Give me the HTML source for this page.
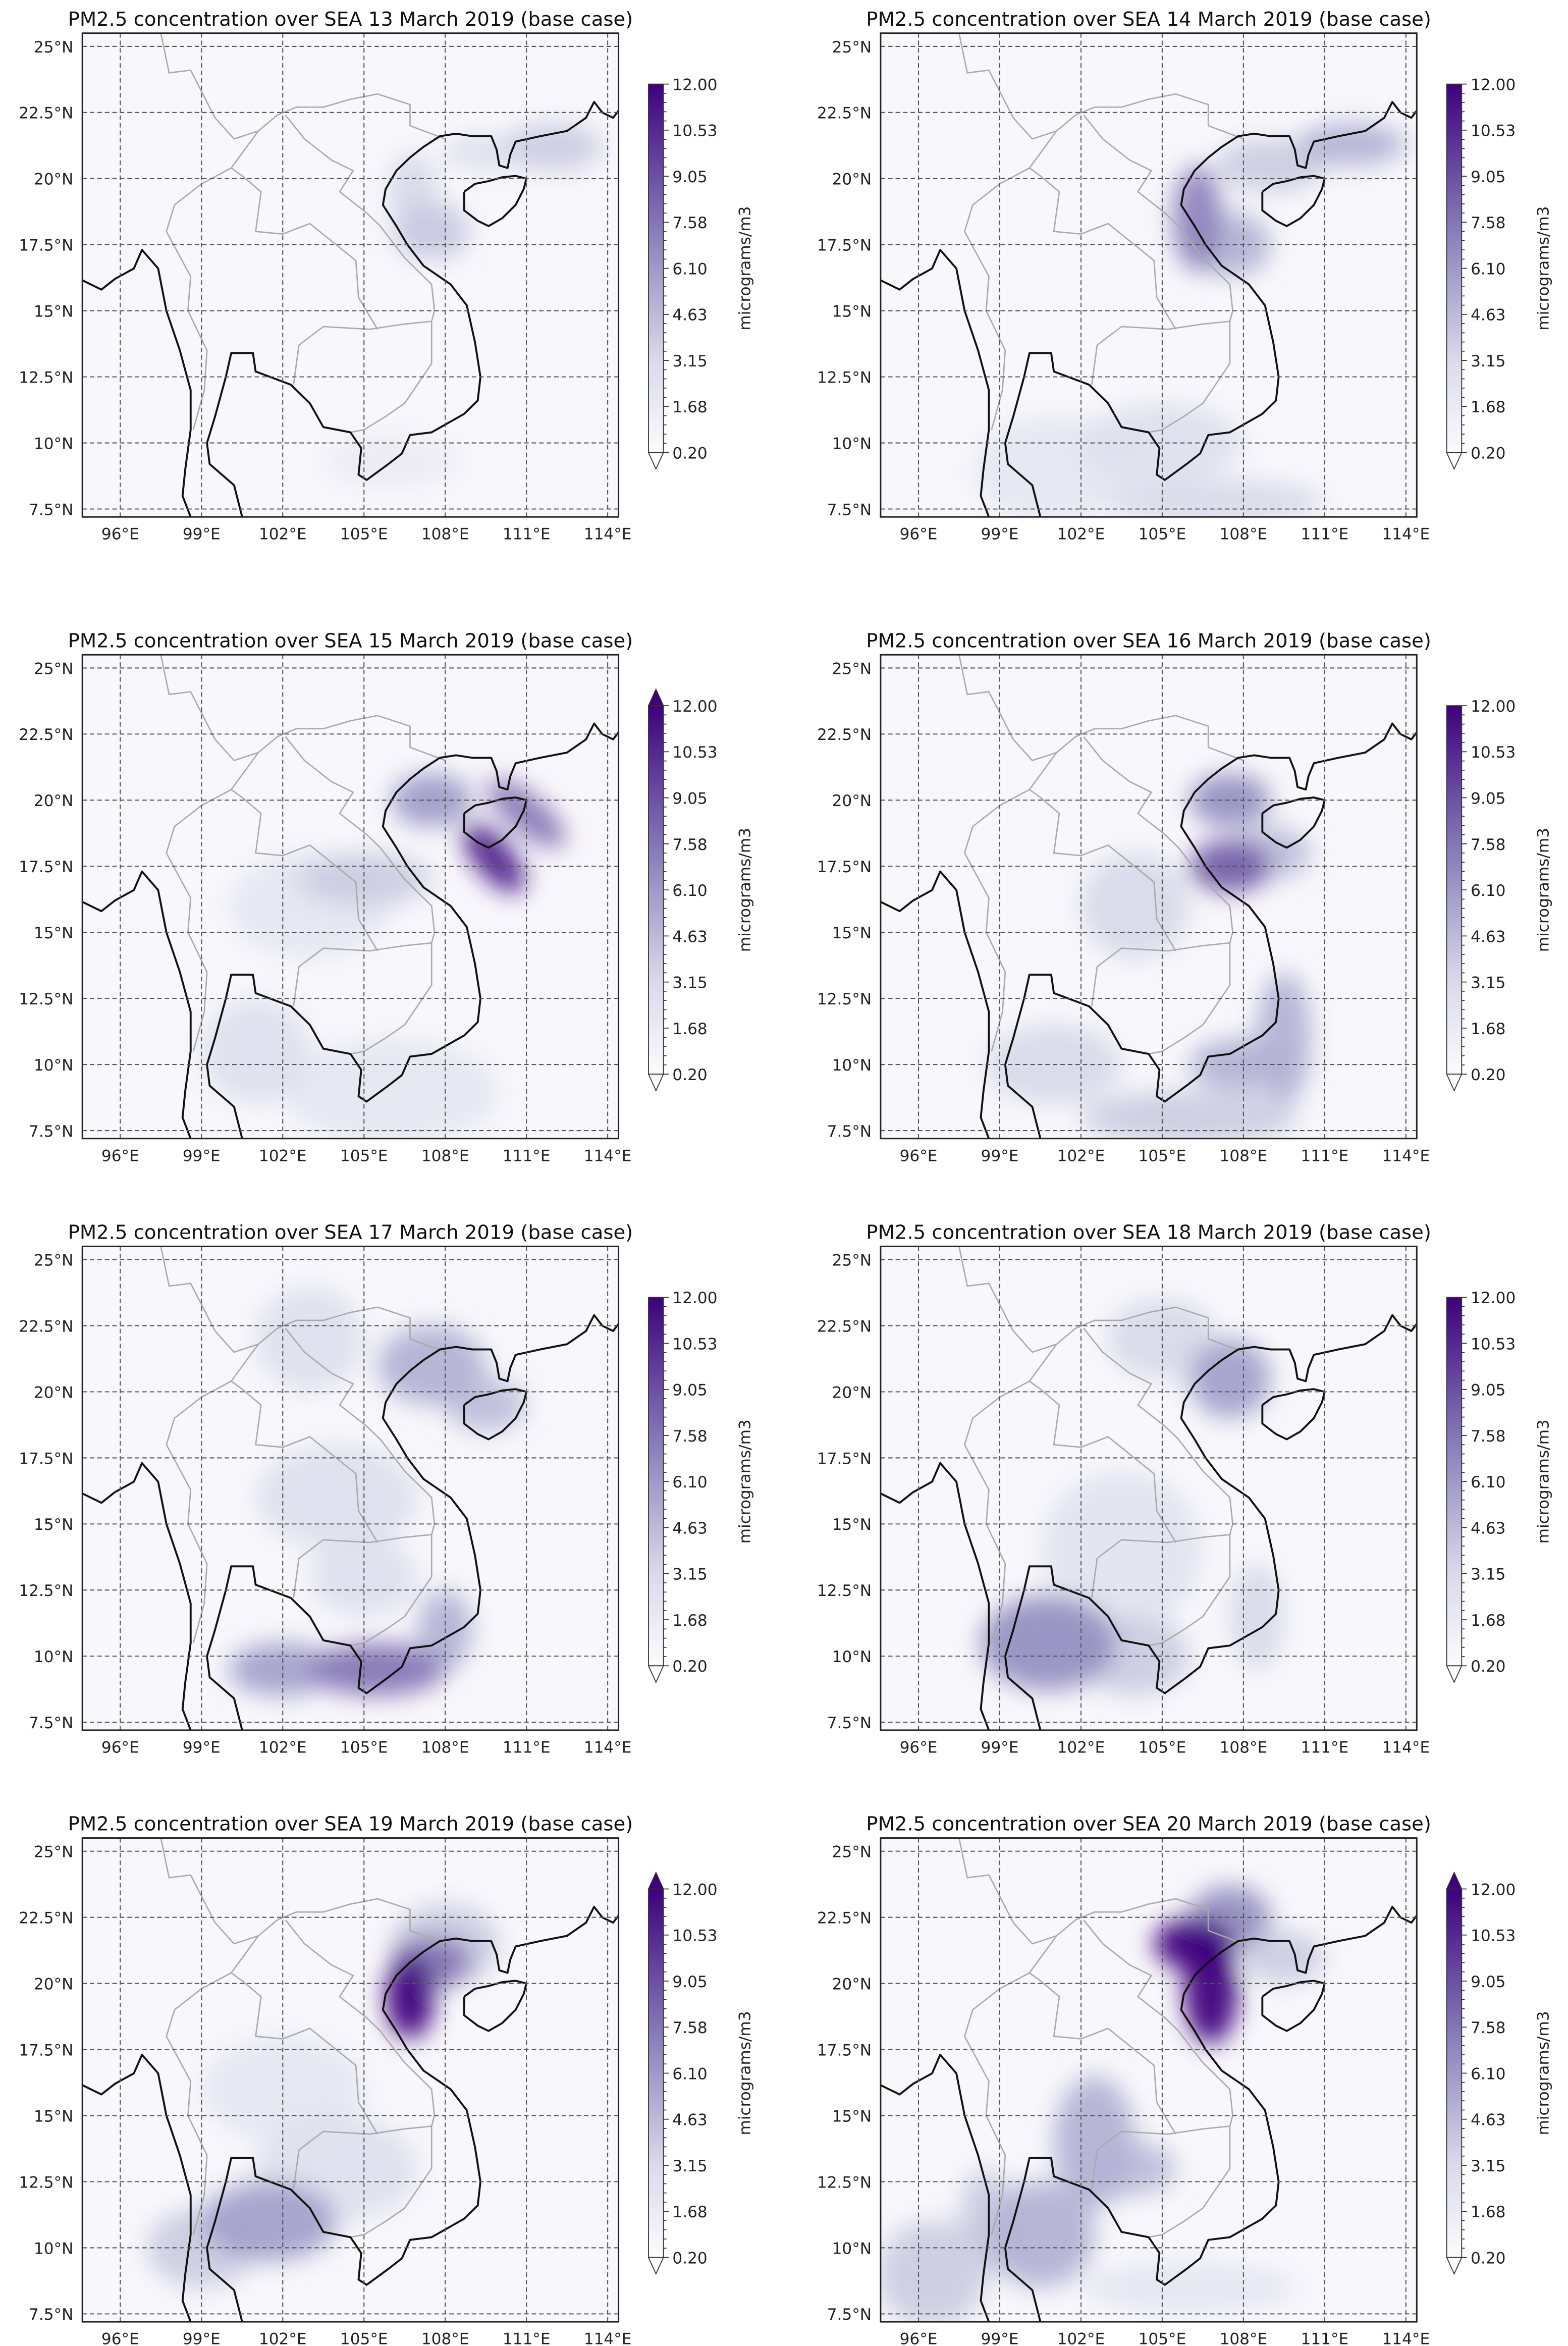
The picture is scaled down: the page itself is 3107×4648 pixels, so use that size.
<!DOCTYPE html>
<html><head><meta charset="utf-8"><style>
html,body{margin:0;padding:0;background:#fff;}
svg{display:block;font-family:"DejaVu Sans","Liberation Sans",sans-serif;}
</style></head><body>
<svg id="fig" xmlns="http://www.w3.org/2000/svg" width="3107" height="4648" viewBox="0 0 1047 1566">
<defs>
<filter id="blur" x="-50%" y="-50%" width="200%" height="200%"><feGaussianBlur stdDeviation="8"/></filter>
<linearGradient id="cbgrad" x1="0" y1="1" x2="0" y2="0">
<stop offset="0" stop-color="#fcfbfd"/><stop offset="0.25" stop-color="#dadaeb"/><stop offset="0.5" stop-color="#9e9ac8"/><stop offset="0.75" stop-color="#6a51a3"/><stop offset="1" stop-color="#3f007d"/>
</linearGradient>
</defs>
</svg>
<script>
const dates = ["13","14","15","16","17","18","19","20"];
const latTicks = [25,22.5,20,17.5,15,12.5,10,7.5];
const lonTicks = [96,99,102,105,108,111,114];
const cbLabels = ["12.00","10.53","9.05","7.58","6.10","4.63","3.15","1.68","0.20"];
const topArrow = [false,false,true,false,false,false,true,true];
// blobs: [lon, lat, rxDeg, ryDeg, rotation, value]
const blobs13 = [[106,9.3,2.5,1,0,1.6],[109.5,21,1.6,0.7,0,2.6],[112,21.2,1.8,0.9,0,3.8],[106.8,19.5,0.9,1.5,0,3.2],[107.5,18,1.4,1.1,0,4]];
const blobs14 = [[101,9,3,2,0,2],[105,10,3,1.5,0,2.6],[107,7.8,4,0.8,0,3.2],[109,20.5,2,1,0,3.8],[112,21.3,2,0.8,0,5],[107.5,17.5,1.5,1.2,0,5],[106.3,18.5,0.9,2,0,7]];
const blobs15 = [[106,9,4,2,0,2],[103,16,3,2,0,2],[101,10.5,2,2,0,2.6],[105,17,2.5,1,0,3.8],[107.5,20,1.5,1,0,6],[111,19.5,1.8,0.7,-40,7.5],[109.8,17.8,0.7,1.6,40,11]];
const blobs16 = [[101,10,2.5,1.5,0,3.2],[104,16,2,2,0,3.2],[106,8,4,1,0,3.8],[109,18,1.5,1,0,4.5],[109.5,11,1,2.5,0,5],[108,10,2,1,0,5],[107.5,20,1.5,1,0,6.5],[107.5,17.5,1.5,1,0,8.5]];
const blobs17 = [[104,16,3,2,0,2.6],[103,22,2,2,0,2.6],[105,13,2,1.5,0,2.6],[109.5,19.5,1.5,1,0,4.5],[107.5,21,2,1.5,0,5],[108,11,1,1.5,0,5],[102,9.5,2,1,0,5.8],[105.5,9.5,2.5,1,0,7.5]];
const blobs18 = [[103.5,14,3,3,0,2.3],[105,22,2,1.5,0,3.2],[108.5,11.5,1,2,0,3.2],[104,10,2,1.5,0,3.8],[107.5,20.5,1.5,1.5,0,5.8],[100.8,10.5,2.5,1.8,0,6.5]];
const blobs19 = [[102,16,3,2,0,2],[104,13,3,2,0,2.6],[108,21.5,2,1.5,0,3.8],[99,10,2,1.5,0,3.8],[101.5,11,2.5,1.5,0,5.8],[107.5,20.8,1.5,1,0,7.5],[106.7,19.5,0.9,1.6,0,14]];
const blobs20 = [[106,8.5,4,1,0,2],[109.5,21,1.5,1,0,3.8],[96.5,9,2,2,0,3.8],[98.5,11,1,2,0,3.8],[104,13,1.5,1,0,4.5],[102.5,14,1.5,2.5,0,5],[100.5,10.5,2,2,0,5],[107.5,22.5,1.5,1.2,0,6.5],[106.2,21.5,1.5,1,0,13],[106.8,19.8,1,2.1,0,18]];
const allBlobs = [blobs13,blobs14,blobs15,blobs16,blobs17,blobs18,blobs19,blobs20];

const coastMain = [[114.5,22.7],[114.2,22.3],[113.8,22.5],[113.5,22.9],[113.2,22.3],[112.5,21.8],[111.5,21.6],[110.6,21.4],[110.4,20.9],[110.3,20.4],[110.0,20.5],[109.9,21.1],[109.7,21.6],[109.0,21.6],[108.4,21.7],[107.8,21.6],[107.2,21.2],[106.7,20.8],[106.2,20.3],[105.8,19.6],[105.7,19],[106.2,18.2],[106.6,17.5],[107.2,16.7],[108.2,16],[108.8,15.2],[109.1,13.8],[109.3,12.5],[109.2,11.6],[108.7,11.1],[107.5,10.4],[106.7,10.3],[106.4,9.6],[105.9,9.2],[105.1,8.6],[104.8,8.8],[104.9,9.8],[104.5,10.4],[103.5,10.6],[103,11.5],[102.3,12.2],[101,12.7],[100.9,13.4],[100.1,13.4],[99.9,12.5],[99.5,11],[99.2,10],[99.3,9.2],[100.2,8.4],[100.5,7.2]];
const coastWest = [[94.5,16.2],[95.3,15.8],[95.8,16.2],[96.5,16.6],[96.8,17.3],[97.4,16.6],[97.7,15],[98.2,13.5],[98.6,12],[98.6,10.5],[98.4,9],[98.3,8],[98.6,7.2]];
const hainan = [[108.7,19.5],[108.7,18.8],[109.2,18.4],[109.6,18.2],[110.1,18.5],[110.6,19],[110.9,19.6],[111,20],[110.6,20.1],[110.1,20.05],[109.6,19.9],[109.1,19.8],[108.7,19.5]];
const borders = [
[[97.5,25.5],[97.8,24],[98.6,24.1],[99.5,22.3],[100.2,21.5],[101.1,21.8],[101.8,22.4],[102.5,22.7],[103.5,22.7],[104.5,23],[105.5,23.2],[106.7,22.8],[106.7,22],[108,21.5]],
[[100.1,20.4],[99,19.8],[98,19],[97.7,18],[98.6,16.3],[98.5,15],[99.2,13.5],[99.1,12],[98.7,10.5]],
[[100.1,20.4],[100.5,20.1],[101.2,19.5],[101,18],[102,17.9],[103,18.3],[104.7,16.9],[104.8,15.5],[105.5,14.3]],
[[100.1,20.4],[101.1,21.8]],
[[102.1,22.4],[102.8,21.5],[103.8,20.7],[104.6,20.3],[104.1,19.5],[105.1,18.7],[105.6,18.2],[106.5,17],[107.5,16],[107.6,15],[107.5,14.6]],
[[102.4,12.2],[102.6,13.7],[103.5,14.4],[105.2,14.3],[106.5,14.5],[107.5,14.6]],
[[107.5,14.6],[107.5,13],[106.5,11.5],[105.8,11],[105,10.5],[104.5,10.4]]
];

const NS="http://www.w3.org/2000/svg";
const svg=document.getElementById('fig');
function el(t,a,p){const e=document.createElementNS(NS,t);for(const k in a)e.setAttribute(k,a[k]);(p||svg).appendChild(e);return e;}
const stops=[[0,[252,251,253]],[0.25,[218,218,235]],[0.5,[158,154,200]],[0.75,[106,81,163]],[1,[63,0,125]]];
function cmap(v){let t=Math.max(0,Math.min(1,(v-0.2)/11.8));for(let i=1;i<stops.length;i++){if(t<=stops[i][0]){const a=stops[i-1],b=stops[i];const f=(t-a[0])/(b[0]-a[0]);const c=a[1].map((x,j)=>Math.round(x+(b[1][j]-x)*f));return `rgb(${c})`;}}return 'rgb(63,0,125)';}

const LON0=94.6,LON1=114.4,LAT0=7.2,LAT1=25.5;
const W=358,H=323;
const colX=[55,588];const rowY=[22,437,832,1227];

dates.forEach((d,i)=>{
  const ox=colX[i%2], oy=rowY[Math.floor(i/2)];
  const g=el('g',{});
  
  
  const X=lon=>ox+(lon-LON0)/(LON1-LON0)*W;
  const Y=lat=>oy+(LAT1-lat)/(LAT1-LAT0)*H;
  const t=el('text',{x:ox+179,y:oy-5,'text-anchor':'middle','font-size':'13',fill:'#111'},g);
  t.textContent='PM2.5 concentration over SEA '+d+' March 2019 (base case)';
  
  
  const cp=el('clipPath',{id:'cp'+i},g);
  el('rect',{x:ox,y:oy,width:W,height:H},cp);
  const plot=el('g',{'clip-path':'url(#cp'+i+')'},g);
  el('rect',{x:ox,y:oy,width:W,height:H,fill:'#f8f7fb'},plot);
  const bg=el('g',{filter:'url(#blur)'},plot);
  allBlobs[i].slice().sort((a,b)=>a[5]-b[5]).forEach(b=>{
    const cx=X(b[0]),cy=Y(b[1]);
    const e=el('ellipse',{cx:cx,cy:cy,rx:b[2]*W/(LON1-LON0),ry:b[3]*H/(LAT1-LAT0),fill:cmap(b[5]),opacity:0.95,transform:`rotate(${-b[4]} ${cx} ${cy})`},bg);
    
    
  });
  const pts=a=>a.map(p=>X(p[0]).toFixed(1)+','+Y(p[1]).toFixed(1)).join(' ');
  borders.forEach(b=>{const l=el('polyline',{points:pts(b),fill:'none',stroke:'#aaa','stroke-width':0.9},plot);});
  [coastMain,coastWest,hainan].forEach(c=>{const l=el('polyline',{points:pts(c),fill:'none',stroke:'#111','stroke-width':1.3,'stroke-linejoin':'round'},plot);});
  latTicks.forEach(la=>{el('line',{x1:ox,x2:ox+W,y1:Y(la),y2:Y(la),stroke:'#555','stroke-width':0.7,'stroke-dasharray':'3,2'},plot);
    const tx=el('text',{x:ox-6,y:Y(la)+4,'text-anchor':'end','font-size':'10.5',fill:'#222'},g);tx.textContent=la+'°N';
    });
  lonTicks.forEach(lo=>{el('line',{x1:X(lo),x2:X(lo),y1:oy,y2:oy+H,stroke:'#555','stroke-width':0.7,'stroke-dasharray':'3,2'},plot);
    const tx=el('text',{x:X(lo),y:oy+H+15,'text-anchor':'middle','font-size':'10.5',fill:'#222'},g);tx.textContent=lo+'°E';
    });
  el('rect',{x:ox,y:oy,width:W,height:H,fill:'none',stroke:'#222','stroke-width':1},g);
  const cx0=ox+378, ctop=oy+34, cbot=oy+280, cw=10;
  const cb=el('g',{},g);
  
  
  el('rect',{x:cx0,y:ctop,width:cw,height:cbot-ctop,fill:'url(#cbgrad)',stroke:'#333','stroke-width':0.6},cb);
  el('polygon',{points:`${cx0},${cbot} ${cx0+cw},${cbot} ${cx0+cw/2},${cbot+11}`,fill:'#fcfbfd',stroke:'#333','stroke-width':0.6},cb);
  if(topArrow[i]) el('polygon',{points:`${cx0},${ctop} ${cx0+cw},${ctop} ${cx0+cw/2},${ctop-11}`,fill:'#3f007d',stroke:'#333','stroke-width':0.6},cb);
  for(let k=0;k<=40;k++){const yy=ctop+(cbot-ctop)*k/40;el('line',{x1:cx0+cw,x2:cx0+cw+(k%5==0?3.5:2),y1:yy,y2:yy,stroke:'#333','stroke-width':0.6},cb);}
  cbLabels.forEach((lb,k)=>{const yy=ctop+(cbot-ctop)*k/8;const tx=el('text',{x:cx0+cw+6,y:yy+4,'font-size':'10.5',fill:'#222'},cb);tx.textContent=lb;});
  const cy=(ctop+cbot)/2;
  const ul=el('text',{x:cx0+68,y:cy,'text-anchor':'middle','font-size':'10.5',fill:'#222',transform:`rotate(-90 ${cx0+68} ${cy})`},cb);
  ul.textContent='micrograms/m3';
  
  
});
</script>
</body></html>
